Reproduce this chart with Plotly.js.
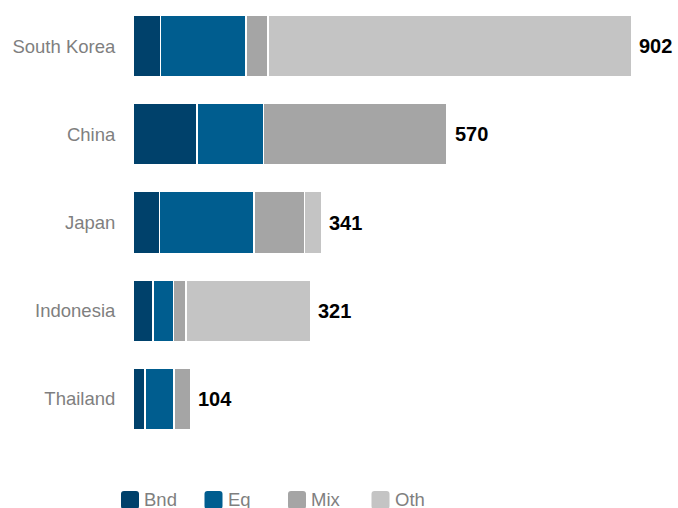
<!DOCTYPE html>
<html>
<head>
<meta charset="utf-8">
<script src="https://cdn.plot.ly/plotly-3.0.1.min.js"></script>
<style>html,body{margin:0;padding:0;background:#fff;}#chart{width:678px;height:508px;}</style>
</head>
<body>
<div id="chart"></div>
<script>
var countries = ["South Korea", "China", "Japan", "Indonesia", "Thailand"];
var bnd = [50, 116, 48, 36, 22];
var eq  = [154, 120, 171, 37, 52];
var mix = [40, 332, 91, 23, 30];
var oth = [658, 2, 31, 225, 0];
var totals = [902, 570, 341, 321, 104];
var seriesNames = ["Bnd", "Eq", "Mix", "Oth"];
var seriesColors = ["#00416b", "#005d8f", "#a5a5a5", "#c4c4c4"];

var FONT = "Liberation Sans, Arial, sans-serif";
var seriesValues = [bnd, eq, mix, oth];

var traces = seriesValues.map(function (vals, i) {
  return {
    type: "bar",
    orientation: "h",
    name: seriesNames[i],
    y: countries,
    x: vals,
    marker: { color: seriesColors[i], line: { color: "#ffffff", width: 1.5 } },
    hoverinfo: "skip",
    showlegend: false
  };
});

var annotations = countries.map(function (c, i) {
  return {
    x: totals[i], y: c, xref: "x", yref: "y",
    text: String(totals[i]), showarrow: false,
    xanchor: "left", yanchor: "middle", xshift: 5,
    font: { family: FONT, size: 20, color: "#000000", weight: "bold" }
  };
});

var shapes = [];
var legendStep = 83.5;
seriesNames.forEach(function (n, i) {
  var left = -12 + i * legendStep; // relative to plot left edge (x=0)
  var s = 18, r = 3;
  var x0 = left, x1 = left + s, y0 = -48, y1 = -48 - s;
  var path = "M" + (x0 + r) + "," + y0 +
    " L" + (x1 - r) + "," + y0 + " Q" + x1 + "," + y0 + " " + x1 + "," + (y0 - r) +
    " L" + x1 + "," + (y1 + r) + " Q" + x1 + "," + y1 + " " + (x1 - r) + "," + y1 +
    " L" + (x0 + r) + "," + y1 + " Q" + x0 + "," + y1 + " " + x0 + "," + (y1 + r) +
    " L" + x0 + "," + (y0 - r) + " Q" + x0 + "," + y0 + " " + (x0 + r) + "," + y0 + " Z";
  shapes.push({
    type: "path", xref: "paper", yref: "paper",
    xsizemode: "pixel", ysizemode: "pixel", xanchor: 0, yanchor: 0,
    path: path, fillcolor: seriesColors[i], line: { width: 0 }
  });
  annotations.push({
    x: 0, y: 0, xref: "paper", yref: "paper",
    xshift: left + 21, yshift: -56,
    text: n, showarrow: false, xanchor: "left", yanchor: "middle",
    font: { family: FONT, size: 18.5, color: "#7f7f7f" }
  });
});

var layout = {
  width: 678, height: 508,
  margin: { l: 133, r: 20, t: 2, b: 65, pad: 0 },
  paper_bgcolor: "#ffffff", plot_bgcolor: "#ffffff",
  barmode: "stack", bargap: 0.3,
  showlegend: false,
  xaxis: { range: [0, 949], showgrid: false, zeroline: false, showticklabels: false, showline: false, fixedrange: true },
  yaxis: {
    type: "category", range: [4.5, -0.5], showgrid: false, zeroline: false, showline: false,
    ticks: "outside", ticklen: 13, tickcolor: "rgba(0,0,0,0)",
    tickfont: { family: FONT, size: 18.5, color: "#7f7f7f" }, fixedrange: true
  },
  annotations: annotations,
  shapes: shapes,
  font: { family: FONT }
};

Plotly.newPlot("chart", traces, layout, { displayModeBar: false, staticPlot: true });
</script>
</body>
</html>
